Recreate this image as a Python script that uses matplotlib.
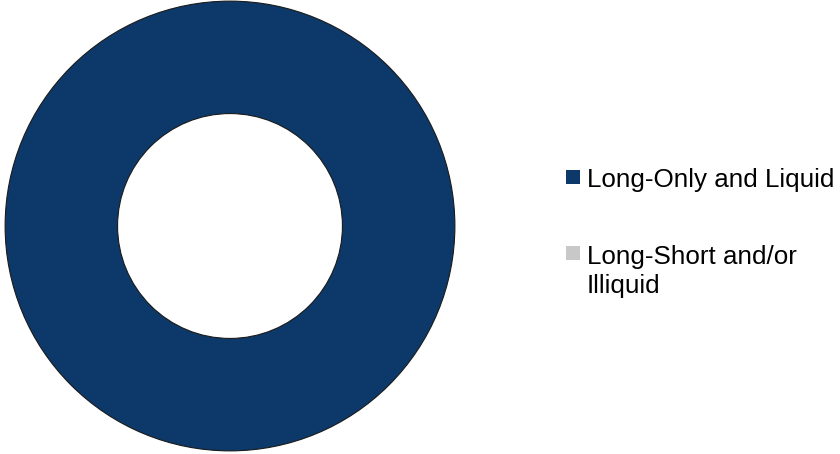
import matplotlib.pyplot as plt
from matplotlib.patches import Circle, Rectangle

# Portfolio split
labels = ['Long-Only and Liquid', 'Long-Short and/or\nIlliquid']
shares = [100, 0]
colors = ['#0c3969', '#c8c8c8']

plt.rcParams['font.family'] = ['Liberation Sans', 'DejaVu Sans']

fig = plt.figure(figsize=(8.4, 4.54), dpi=100)

# Donut on the left
outer, width = 1.0, 0.5
ax = fig.add_axes([4 / 840, 2 / 454, 452 / 840, 452 / 454])
ax.pie(shares, colors=colors, startangle=90, counterclock=False, radius=outer,
       wedgeprops=dict(width=width, linewidth=0))
# thin rim on both edges of the ring
for r in (outer, outer - width):
    ax.add_patch(Circle((0, 0), r, fill=False, edgecolor='#1a1a1a', linewidth=0.8))
ax.set_xlim(-1.005, 1.005)
ax.set_ylim(-1.005, 1.005)
ax.set_aspect('equal')
ax.axis('off')

# Legend on the right, square swatch next to the first line of each label
line_px = 30
for i, (lab, c) in enumerate(zip(labels, colors)):
    base = 187 + 76 * i
    fig.patches.append(Rectangle((566 / 840, 1 - (base - 3) / 454), 14 / 840, 14 / 454,
                                 transform=fig.transFigure, facecolor=c, edgecolor='none'))
    # baseline alignment sits on the last line, so push multi-line labels down
    last = base + line_px * lab.count('\n')
    fig.text(587 / 840, 1 - last / 454, lab, fontsize=18.7, va='baseline', ha='left',
             linespacing=1.27, color='#000000')

fig.savefig('out.png', dpi=100)
